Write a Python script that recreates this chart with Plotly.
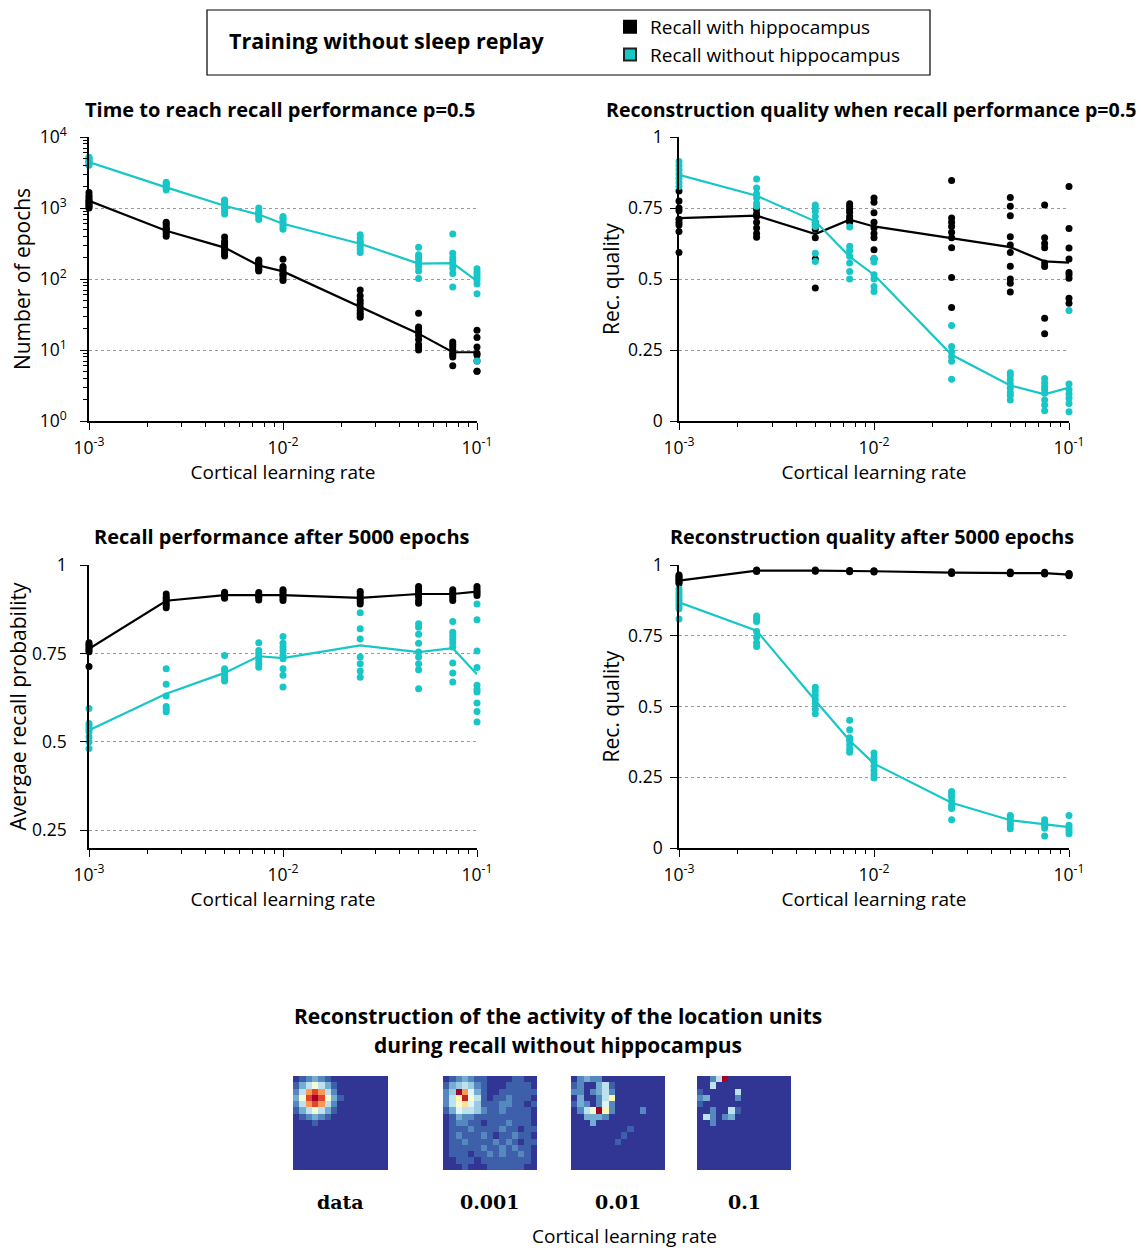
import plotly.graph_objects as go

W, H = 1141, 1248
FONT = "Open Sans"
SERIF = "DejaVu Serif"
BLACK = "#000000"
CYAN = "#17c6c6"


def px(x):
    return x / W


def py(y):
    return 1 - y / H


# ---------------- data ----------------
learning_rates = [0.001, 0.0025, 0.005, 0.0075, 0.01, 0.025, 0.05, 0.075, 0.1]

# Panel 1: time (epochs) to reach recall performance p=0.5
epochs_with_hpc_pts = [
    [1000, 1050, 1100, 1150, 1200, 1250, 1300, 1400, 1500, 1650],
    [400, 430, 460, 480, 500, 520, 560, 600, 630],
    [210, 225, 240, 260, 280, 300, 320, 340, 390],
    [130, 135, 140, 150, 155, 160, 170, 180, 185],
    [95, 100, 110, 115, 120, 130, 140, 150, 190],
    [29, 31, 33, 36, 40, 45, 50, 58, 70],
    [10, 11, 12, 14, 16, 18, 20, 21, 33],
    [6, 8, 8.5, 9, 10, 11, 12, 13],
    [5, 5, 7, 8.5, 9, 11, 15, 19],
]
epochs_with_hpc_line = [1260, 478, 277, 155, 128, 40, 17, 9.3, 9.3]
epochs_without_hpc_pts = [
    [4000, 4200, 4400, 4500, 4700, 5000, 5200],
    [1800, 1900, 2000, 2100, 2200, 2300],
    [820, 900, 1000, 1080, 1150, 1250, 1300],
    [690, 750, 800, 850, 900, 1000],
    [500, 540, 580, 620, 680, 720, 760],
    [235, 260, 290, 320, 340, 380, 420],
    [102, 130, 150, 165, 180, 200, 220, 280],
    [77, 120, 140, 160, 180, 200, 230, 430],
    [7, 62, 85, 95, 105, 115, 125, 139],
]
epochs_without_hpc_line = [4440, 1950, 1075, 810, 600, 314, 165, 167, 93]

# Panel 2: reconstruction quality when recall performance p=0.5
recq05_with_hpc_pts = [
    [0.593, 0.667, 0.69, 0.70, 0.71, 0.74, 0.75, 0.775, 0.81],
    [0.647, 0.66, 0.68, 0.70, 0.72, 0.73, 0.745],
    [0.468, 0.57, 0.645, 0.675, 0.69, 0.70],
    [0.70, 0.71, 0.72, 0.735, 0.745, 0.755, 0.765],
    [0.57, 0.603, 0.645, 0.66, 0.68, 0.70, 0.733, 0.77, 0.785],
    [0.40, 0.505, 0.61, 0.645, 0.665, 0.685, 0.70, 0.715, 0.847],
    [0.454, 0.485, 0.50, 0.545, 0.593, 0.62, 0.649, 0.723, 0.756, 0.787],
    [0.307, 0.362, 0.544, 0.556, 0.61, 0.625, 0.645, 0.761],
    [0.415, 0.432, 0.503, 0.515, 0.523, 0.57, 0.609, 0.678, 0.826],
]
recq05_with_hpc_line = [0.714, 0.723, 0.658, 0.709, 0.685, 0.643, 0.612, 0.562, 0.558]
recq05_without_hpc_pts = [
    [0.826, 0.84, 0.855, 0.87, 0.885, 0.90, 0.914],
    [0.756, 0.767, 0.785, 0.80, 0.82, 0.852],
    [0.562, 0.591, 0.685, 0.70, 0.72, 0.738, 0.75, 0.761],
    [0.50, 0.526, 0.556, 0.58, 0.60, 0.615, 0.683],
    [0.456, 0.474, 0.50, 0.515, 0.56, 0.573],
    [0.147, 0.21, 0.227, 0.244, 0.262, 0.336],
    [0.074, 0.09, 0.10, 0.115, 0.13, 0.145, 0.16, 0.17],
    [0.036, 0.056, 0.074, 0.098, 0.11, 0.121, 0.135, 0.15],
    [0.033, 0.062, 0.08, 0.095, 0.11, 0.13, 0.389],
]
recq05_without_hpc_line = [0.867, 0.793, 0.703, 0.579, 0.515, 0.233, 0.125, 0.094, 0.118]

# Panel 3: recall performance after 5000 epochs
recall5000_with_hpc_pts = [
    [0.713, 0.755, 0.76, 0.765, 0.77, 0.775, 0.78],
    [0.879, 0.886, 0.893, 0.90, 0.905, 0.91, 0.918],
    [0.906, 0.91, 0.914, 0.918, 0.923],
    [0.901, 0.908, 0.912, 0.916, 0.922],
    [0.90, 0.906, 0.912, 0.918, 0.925, 0.93],
    [0.89, 0.897, 0.903, 0.91, 0.918, 0.925],
    [0.892, 0.90, 0.91, 0.918, 0.925, 0.932, 0.939],
    [0.90, 0.908, 0.915, 0.922, 0.93],
    [0.914, 0.92, 0.926, 0.932, 0.939],
]
recall5000_with_hpc_line = [0.763, 0.899, 0.915, 0.914, 0.915, 0.907, 0.918, 0.918, 0.925]
recall5000_without_hpc_pts = [
    [0.481, 0.50, 0.514, 0.528, 0.535, 0.545, 0.552, 0.594],
    [0.585, 0.593, 0.60, 0.63, 0.663, 0.707],
    [0.672, 0.68, 0.69, 0.70, 0.707, 0.744],
    [0.711, 0.72, 0.73, 0.74, 0.75, 0.758, 0.78],
    [0.655, 0.688, 0.707, 0.735, 0.745, 0.758, 0.768, 0.779, 0.798],
    [0.683, 0.70, 0.721, 0.74, 0.791, 0.82, 0.865],
    [0.65, 0.704, 0.721, 0.74, 0.754, 0.779, 0.804, 0.824, 0.834],
    [0.669, 0.695, 0.723, 0.768, 0.78, 0.79, 0.80, 0.81, 0.84],
    [0.556, 0.586, 0.61, 0.641, 0.648, 0.66, 0.71, 0.757, 0.845, 0.89],
]
recall5000_without_hpc_line = [0.533, 0.636, 0.695, 0.742, 0.737, 0.773, 0.754, 0.765, 0.691]

# Panel 4: reconstruction quality after 5000 epochs
recq5000_with_hpc_pts = [
    [0.935, 0.94, 0.945, 0.95, 0.955, 0.96, 0.965],
    [0.977, 0.98, 0.982],
    [0.978, 0.98, 0.982],
    [0.976, 0.979, 0.981],
    [0.975, 0.978, 0.98],
    [0.97, 0.973, 0.976],
    [0.969, 0.972, 0.975],
    [0.968, 0.971, 0.974],
    [0.962, 0.965, 0.968, 0.97],
]
recq5000_with_hpc_line = [0.945, 0.98, 0.98, 0.979, 0.978, 0.973, 0.972, 0.971, 0.966]
recq5000_without_hpc_pts = [
    [0.809, 0.845, 0.855, 0.865, 0.875, 0.885, 0.895, 0.905, 0.915],
    [0.712, 0.725, 0.745, 0.765, 0.80, 0.81, 0.82],
    [0.474, 0.49, 0.51, 0.525, 0.54, 0.555, 0.568],
    [0.338, 0.35, 0.365, 0.38, 0.39, 0.418, 0.451],
    [0.247, 0.26, 0.275, 0.29, 0.305, 0.32, 0.336],
    [0.10, 0.14, 0.15, 0.165, 0.18, 0.19, 0.20],
    [0.068, 0.08, 0.09, 0.10, 0.11, 0.115],
    [0.042, 0.07, 0.08, 0.09, 0.10],
    [0.05, 0.06, 0.07, 0.08, 0.115],
]
recq5000_without_hpc_line = [0.868, 0.768, 0.521, 0.38, 0.298, 0.16, 0.098, 0.084, 0.074]

# Reconstructed location-unit activity, 15x15 cells, hex levels 0-f (0 .. 1)
recon_labels = ["data", "0.001", "0.01", "0.1"]
recon_data = [
    "012321000000000",
    "135753100000000",
    "25bdb5200000000",
    "37dfd7310000000",
    "25bdb5200000000",
    "135753100000000",
    "012321000000000",
    "000100000000000",
    "000000000000000",
    "000000000000000",
    "000000000000000",
    "000000000000000",
    "000000000000000",
    "000000000000000",
    "000000000000000",
]
recon_lr_0001 = [
    "012321100001100",
    "134542100011110",
    "24fb63100111111",
    "258e75101121110",
    "257964111221101",
    "136554211211110",
    "013221111111110",
    "012211011121110",
    "011121111211011",
    "012111210112110",
    "011211112121011",
    "011111211212110",
    "011101121211210",
    "001110111111110",
    "000100011111100",
]
recon_lr_001 = [
    "023220000000000",
    "120035100000000",
    "220235200000000",
    "030025800000000",
    "132026200000000",
    "0257f8200002000",
    "003332000000000",
    "000300000000000",
    "000000000100000",
    "000000001000000",
    "000000010000000",
    "000000000000000",
    "000000000000000",
    "000000000000000",
    "000000000000000",
]
recon_lr_01 = [
    "0025f0000000000",
    "005000000000000",
    "100000500000000",
    "230000200000000",
    "100000000000000",
    "002005100000000",
    "052023000000000",
    "002000000000000",
    "000000000000000",
    "000000000000000",
    "000000000000000",
    "000000000000000",
    "000000000000000",
    "000000000000000",
    "000000000000000",
]
recon_images = [recon_data, recon_lr_0001, recon_lr_001, recon_lr_01]


def flatten(pts):
    xs, ys = [], []
    for lr_val, vals in zip(learning_rates, pts):
        for v in vals:
            xs.append(lr_val)
            ys.append(v)
    return xs, ys


fig = go.Figure()

panels = [
    (epochs_with_hpc_pts, epochs_with_hpc_line, epochs_without_hpc_pts, epochs_without_hpc_line),
    (recq05_with_hpc_pts, recq05_with_hpc_line, recq05_without_hpc_pts, recq05_without_hpc_line),
    (recall5000_with_hpc_pts, recall5000_with_hpc_line, recall5000_without_hpc_pts, recall5000_without_hpc_line),
    (recq5000_with_hpc_pts, recq5000_with_hpc_line, recq5000_without_hpc_pts, recq5000_without_hpc_line),
]

for k, (wp, wl, op, ol) in enumerate(panels):
    xa = "x" if k == 0 else f"x{k + 1}"
    ya = "y" if k == 0 else f"y{k + 1}"
    for pts, line, col in [(wp, wl, BLACK), (op, ol, CYAN)]:
        xs, ys = flatten(pts)
        fig.add_trace(go.Scatter(x=xs, y=ys, mode="markers", xaxis=xa, yaxis=ya,
                                 marker=dict(color=col, size=7), showlegend=False,
                                 cliponaxis=False, hoverinfo="x+y"))
        fig.add_trace(go.Scatter(x=learning_rates, y=line, mode="lines", xaxis=xa, yaxis=ya,
                                 line=dict(color=col, width=2.2), showlegend=False,
                                 cliponaxis=False))

# legend entries
fig.add_trace(go.Scatter(x=[None], y=[None], mode="markers", name="Recall with hippocampus",
                         marker=dict(symbol="square", size=15, color=BLACK,
                                     line=dict(color=BLACK, width=1))))
fig.add_trace(go.Scatter(x=[None], y=[None], mode="markers", name="Recall without hippocampus",
                         marker=dict(symbol="square", size=15, color=CYAN,
                                     line=dict(color="#222222", width=1))))

# heatmaps
for i, img in enumerate(recon_images):
    z = [[int(c, 16) / 15 for c in row] for row in img]
    fig.add_trace(go.Heatmap(z=z, xaxis=f"x{5 + i}", yaxis=f"y{5 + i}", colorscale="RdYlBu_r",
                             zmin=0, zmax=1, showscale=False, hoverinfo="skip"))

minor_log_x = [m * 10 ** e for e in (-3, -2) for m in range(2, 10)]
minor_log_y = [m * 10 ** e for e in (0, 1, 2, 3) for m in range(2, 10)]

tickfont = dict(family=FONT, size=17.5, color="black")
xtitlefont = dict(family=FONT, size=19, color="black")
ytitlefont = dict(family=FONT, size=21, color="black")


def x_axis(x0, x1, anchor):
    return dict(domain=[px(x0), px(x1)], anchor=anchor, type="log", range=[-3.00001, -0.99999],
                tickmode="array", tickvals=[1e-3, 1e-2, 1e-1],
                ticktext=["10<sup>-3</sup>", "10<sup>-2</sup>", "10<sup>-1</sup>"],
                ticks="outside", ticklen=7, tickwidth=1.4, tickcolor="black",
                showline=True, linecolor="black", linewidth=1.6, showgrid=False,
                zeroline=False, tickfont=tickfont, automargin=False, ticklabelstandoff=3,
                minor=dict(tickvals=minor_log_x, ticks="outside", ticklen=4,
                           tickwidth=1, tickcolor="black", showgrid=False),
                title=dict(text="Cortical learning rate", font=xtitlefont, standoff=2))


def y_axis(y0, y1, anchor, title, standoff=8, labelgap=10, **kw):
    d = dict(domain=[py(y1), py(y0)], anchor=anchor, ticks="outside", ticklen=7,
             tickwidth=1.4, tickcolor="black", showline=True, linecolor="black",
             linewidth=1.6, showgrid=True, gridcolor="#9a9a9a", griddash="dot",
             gridwidth=1, zeroline=False, tickfont=tickfont, automargin=False,
             ticklabelstandoff=labelgap,
             title=dict(text=title, font=ytitlefont, standoff=standoff))
    d.update(kw)
    return d


L1, R1 = 89, 477
L2, R2 = 679, 1069
T1, B1 = 137, 421
T2, B2 = 565, 848

lin_ticks = dict(tickmode="array", tickvals=[0, 0.25, 0.5, 0.75, 1],
                 ticktext=["0", "0.25", "0.5", "0.75", "1"])

layout = dict(
    width=W, height=H, margin=dict(l=0, r=0, t=0, b=0, autoexpand=False),
    paper_bgcolor="white", plot_bgcolor="white",
    font=dict(family=FONT, color="black"),
    xaxis=x_axis(L1, R1, "y"),
    yaxis=y_axis(T1, B1, "x", "Number of epochs", standoff=3, labelgap=10, type="log",
                 range=[0, 4], tickmode="array", tickvals=[1, 10, 100, 1000, 10000],
                 ticktext=["10<sup>0</sup>", "10<sup>1</sup>", "10<sup>2</sup>",
                           "10<sup>3</sup>", "10<sup>4</sup>"],
                 minor=dict(tickvals=minor_log_y, ticks="outside", ticklen=4,
                            tickwidth=1, tickcolor="black", showgrid=False)),
    xaxis2=x_axis(L2, R2, "y2"),
    yaxis2=y_axis(T1, B1, "x2", "Rec. quality", standoff=3, labelgap=4, range=[0, 1],
                  **lin_ticks),
    xaxis3=x_axis(L1, R1, "y3"),
    yaxis3=y_axis(T2, B2, "x3", "Avergae recall probability", standoff=0, labelgap=10,
                  range=[0.2, 1], tickmode="array", tickvals=[0.25, 0.5, 0.75, 1],
                  ticktext=["0.25", "0.5", "0.75", "1"]),
    xaxis4=x_axis(L2, R2, "y4"),
    yaxis4=y_axis(T2, B2, "x4", "Rec. quality", standoff=3, labelgap=4, range=[0, 1],
                  **lin_ticks),
    legend=dict(x=px(610), y=py(8), xanchor="left", yanchor="top",
                font=dict(family=FONT, size=19, color="black"),
                bgcolor="rgba(0,0,0,0)", borderwidth=0, itemsizing="constant"),
)

heat_x = [(293, 388), (443, 537), (571, 665), (697, 791)]
HT, HB = 1076, 1170
for i, (a, b) in enumerate(heat_x):
    layout[f"xaxis{5 + i}"] = dict(domain=[px(a), px(b)], anchor=f"y{5 + i}", range=[-0.5, 14.5],
                                   visible=False, showgrid=False, zeroline=False, automargin=False)
    layout[f"yaxis{5 + i}"] = dict(domain=[py(HB), py(HT)], anchor=f"x{5 + i}", range=[14.5, -0.5],
                                   visible=False, showgrid=False, zeroline=False, automargin=False)

fig.update_layout(**layout)

annotations = []


def ann(text, x, y, size, family=FONT, bold=False, xanchor="center"):
    annotations.append(dict(text=f"<b>{text}</b>" if bold else text, x=px(x), y=py(y),
                            xref="paper", yref="paper", showarrow=False, xanchor=xanchor,
                            yanchor="middle", font=dict(family=family, size=size, color="black")))


ann("Training without sleep replay", 227, 41, 21.5, bold=True, xanchor="left")
ann("Time to reach recall performance p=0.5", 280, 109, 20, bold=True)
ann("Reconstruction quality when recall performance p=0.5", 871, 109, 19.6, bold=True)
ann("Recall performance after 5000 epochs", 282, 536, 20, bold=True)
ann("Reconstruction quality after 5000 epochs", 872, 536, 19.8, bold=True)
ann("Reconstruction of the activity of the location units", 558, 1016, 21, bold=True)
ann("during recall without hippocampus", 558, 1045, 21, bold=True)
for lab, (a, b) in zip(recon_labels, heat_x):
    ann(lab, (a + b) / 2, 1202, 19, family=SERIF, bold=True)
ann("Cortical learning rate", 624, 1236, 19)

fig.update_layout(annotations=annotations)
fig.add_shape(type="rect", xref="paper", yref="paper", x0=px(207), x1=px(930),
              y0=py(75), y1=py(10), line=dict(color="black", width=1.2))

fig.write_html("out.html", config={"displayModeBar": False},
               post_script="document.body.style.margin='0';document.body.style.overflow='hidden';")
